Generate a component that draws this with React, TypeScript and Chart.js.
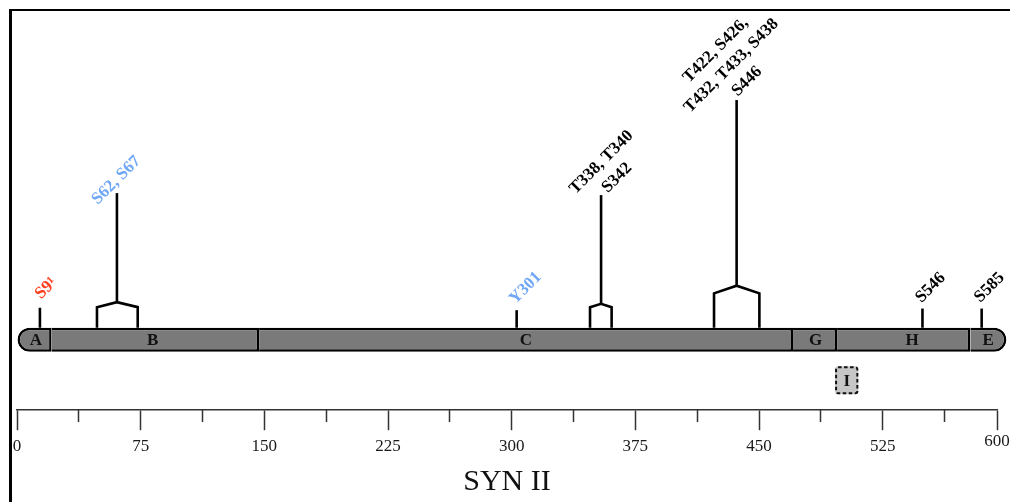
import React, { useEffect, useRef } from 'react';
import { Chart, registerables } from 'chart.js';

Chart.register(...registerables);

// ---------- data ----------
const DOMAIN_NAMES = ['A', 'B', 'C', 'G', 'H', 'E'];
const DOMAIN_START = [0, 21.0, 146.8, 470.6, 497.3, 578.2];
const DOMAIN_END = [21.0, 146.8, 470.6, 497.3, 578.2, 600];
const DOMAIN_LABEL_AT = [11.5, 82.3, 308.6, 484.3, 542.8, 589.0];

const EXTRA_DOMAIN_NAME = 'I';
const EXTRA_DOMAIN_START = 496.1;
const EXTRA_DOMAIN_END = 510.2;

const SITE_LABELS = [
  'S9\u00B9',
  'S62, S67',
  'Y301',
  'T338, T340\nS342',
  'T422, S426,\nT432, T433, S438\nS446',
  'S546',
  'S585',
];
const SITE_POS = [13.9, 60.6, 303.0, 354.2, 436.4, 549.1, 585.0];
const SITE_SPAN_START: (number | null)[] = [null, 48.5, null, 347.5, 422.7, null, null];
const SITE_SPAN_END: (number | null)[] = [null, 73.2, null, 360.6, 450.2, null, null];
const SITE_COLORS = ['#ff4020', '#6fa6f6', '#6fa6f6', '#000000', '#000000', '#000000', '#000000'];

const TICK_VALUES = [0, 75, 150, 225, 300, 375, 450, 525, 600];
const AXIS_MAX = 594.3;
const TITLE = 'SYN II';

// ---------- vertical layout levels (y units) and label styling ----------
const BAR_LEVEL = 17.6;
const BAR_TOP = 20.6;
const EXTRA_LEVEL = 7.5;
const STEM_TOP = [25.6, 54.25, 25.0, 53.75, 77.5, 25.4, 25.4];
const BRACKET_LEG = [0, 25.75, 0, 25.75, 29.2, 0, 0];
const BRACKET_APEX = [0, 27.0, 0, 26.6, 31.1, 0, 0];
const LABEL_SHIFT = [6.5, -22, 3, 6, 3, 3, 3];
const LABEL_LIFT = [5, 5, 5, -3.5, 1.5, 4.5, 5];
const LABEL_LINE_H = 22;

const MINOR_TICKS = TICK_VALUES.slice(0, -1)
  .map((v, i) => (v + TICK_VALUES[i + 1]) / 2)
  .filter((v) => v < AXIS_MAX);

const SERIF = '"Liberation Serif", "Times New Roman", serif';
Chart.defaults.font.family = SERIF;

const lineStyle = {
  type: 'line' as const,
  borderColor: '#000',
  borderWidth: 2.6,
  pointRadius: 0,
  pointHoverRadius: 0,
  fill: false,
  tension: 0,
  borderJoinStyle: 'miter' as const,
  borderCapStyle: 'butt' as const,
  clip: false as any,
  order: 2,
  xAxisID: 'x',
  yAxisID: 'y',
};

function buildSiteDatasets() {
  const sets: any[] = [];
  SITE_POS.forEach((p, i) => {
    const s = SITE_SPAN_START[i];
    const e = SITE_SPAN_END[i];
    if (s != null && e != null) {
      sets.push({
        ...lineStyle,
        data: [
          { x: s, y: BAR_TOP },
          { x: s, y: BRACKET_LEG[i] },
          { x: p, y: BRACKET_APEX[i] },
          { x: e, y: BRACKET_LEG[i] },
          { x: e, y: BAR_TOP },
        ],
      });
      sets.push({ ...lineStyle, data: [{ x: p, y: BRACKET_APEX[i] }, { x: p, y: STEM_TOP[i] }] });
    } else {
      sets.push({ ...lineStyle, data: [{ x: p, y: BAR_TOP }, { x: p, y: STEM_TOP[i] }] });
    }
  });
  return sets;
}

const annotate = {
  id: 'annotate',
  afterDatasetsDraw(chart: any) {
    const { ctx, scales } = chart;
    const x = scales.x;
    const y = scales.y;
    ctx.save();
    // domain names
    ctx.font = `bold 17px ${SERIF}`;
    ctx.fillStyle = '#111';
    ctx.textAlign = 'center';
    ctx.textBaseline = 'middle';
    DOMAIN_NAMES.forEach((n, i) => {
      ctx.fillText(n, x.getPixelForValue(DOMAIN_LABEL_AT[i]), y.getPixelForValue(BAR_LEVEL) + 1);
    });
    // extra domain box: dashed outline + name
    const el = chart.getDatasetMeta(1).data[0];
    if (el) {
      const { x: ex, y: ey, base, height } = el.getProps(['x', 'y', 'base', 'height'], true);
      const left = Math.min(ex, base);
      const w = Math.abs(ex - base);
      ctx.save();
      ctx.setLineDash([3.5, 2.5]);
      ctx.lineWidth = 2;
      ctx.strokeStyle = '#111';
      ctx.beginPath();
      if (ctx.roundRect) ctx.roundRect(left + 1, ey - height / 2 + 1, w - 2, height - 2, 2);
      else ctx.rect(left + 1, ey - height / 2 + 1, w - 2, height - 2);
      ctx.stroke();
      ctx.restore();
      ctx.fillStyle = '#111';
      ctx.fillText(EXTRA_DOMAIN_NAME, left + w / 2, ey + 1);
    }
    // site labels (rotated 45 degrees, centred lines)
    SITE_LABELS.forEach((label, i) => {
      const px = x.getPixelForValue(SITE_POS[i]);
      const py = y.getPixelForValue(STEM_TOP[i]);
      const lines = label.split('\n');
      ctx.save();
      ctx.translate(px, py);
      ctx.rotate(-Math.PI / 4);
      ctx.font = `bold 17px ${SERIF}`;
      ctx.fillStyle = SITE_COLORS[i];
      ctx.textAlign = 'center';
      ctx.textBaseline = 'alphabetic';
      const lastW = ctx.measureText(lines[lines.length - 1]).width;
      const cx = LABEL_SHIFT[i] + lastW / 2;
      lines.forEach((ln, k) => {
        ctx.fillText(ln, cx, -LABEL_LIFT[i] - (lines.length - 1 - k) * LABEL_LINE_H);
      });
      ctx.restore();
    });
    ctx.restore();
  },
};

export default function App() {
  const ref = useRef<HTMLCanvasElement>(null);

  useEffect(() => {
    const canvas = ref.current;
    if (!canvas) return;
    const last = DOMAIN_NAMES.length - 1;
    const lastTick = TICK_VALUES.length - 1;
    const chart = new Chart(canvas, {
      type: 'line',
      data: {
        datasets: [
          {
            type: 'bar',
            indexAxis: 'y',
            grouped: false,
            barThickness: 24,
            inflateAmount: 0,
            borderSkipped: false,
            clip: false,
            order: 1,
            xAxisID: 'x',
            yAxisID: 'y',
            backgroundColor: '#7a7a7a',
            borderColor: '#000',
            borderWidth: (c: any) =>
              c.dataIndex === 0
                ? { top: 2.5, bottom: 2.5, left: 2.5, right: 2.5 }
                : { top: 2.5, bottom: 2.5, left: 0, right: 2.5 },
            borderRadius: (c: any) =>
              c.dataIndex === 0
                ? { topLeft: 12, bottomLeft: 12, topRight: 0, bottomRight: 0 }
                : c.dataIndex === last
                ? { topLeft: 0, bottomLeft: 0, topRight: 12, bottomRight: 12 }
                : 0,
            data: DOMAIN_START.map((s, i) => ({ x: [s, DOMAIN_END[i]], y: BAR_LEVEL })),
          } as any,
          {
            type: 'bar',
            indexAxis: 'y',
            grouped: false,
            barThickness: 28,
            inflateAmount: 0,
            borderSkipped: false,
            clip: false,
            order: 1,
            xAxisID: 'x',
            yAxisID: 'y',
            backgroundColor: '#c6c6c6',
            borderWidth: 0,
            borderRadius: 3,
            data: [{ x: [EXTRA_DOMAIN_START, EXTRA_DOMAIN_END], y: EXTRA_LEVEL }],
          } as any,
          ...buildSiteDatasets(),
        ],
      },
      options: {
        responsive: false,
        animation: false,
        events: [],
        layout: { padding: { left: 17, right: 13, top: 10, bottom: 0 } },
        plugins: {
          legend: { display: false },
          tooltip: { enabled: false },
          title: {
            display: true,
            text: TITLE,
            position: 'bottom',
            color: '#111',
            font: { family: SERIF, size: 30, weight: 'normal', lineHeight: 1.2 },
            padding: { top: 0.5, bottom: 2.3 },
          },
        },
        scales: {
          x: {
            type: 'linear',
            position: 'bottom',
            min: 0,
            max: AXIS_MAX,
            offset: false,
            afterBuildTicks: (s: any) => {
              s.ticks = TICK_VALUES.map((v) => ({ value: Math.min(v, AXIS_MAX) }));
            },
            ticks: {
              autoSkip: false,
              maxRotation: 0,
              minRotation: 0,
              padding: 0,
              color: '#1a1a1a',
              font: (c: any) => ({
                family: SERIF,
                size: 17,
                lineHeight: c.index === lastTick ? '23px' : '33px',
              }),
              callback: (_v: any, i: number) => String(TICK_VALUES[i]),
            },
            grid: {
              display: true,
              offset: false,
              drawOnChartArea: false,
              drawTicks: true,
              tickLength: 20,
              tickWidth: 1.5,
              tickColor: '#333',
            },
            border: { display: true, width: 1.5, color: '#333' },
          },
          x2: {
            type: 'linear',
            axis: 'x',
            position: { y: 0 },
            min: 0,
            max: AXIS_MAX,
            offset: false,
            afterBuildTicks: (s: any) => {
              s.ticks = MINOR_TICKS.map((v) => ({ value: v }));
            },
            ticks: { display: false },
            grid: {
              display: true,
              offset: false,
              drawOnChartArea: false,
              drawTicks: true,
              tickLength: 12,
              tickWidth: 1.5,
              tickColor: '#333',
            },
            border: { display: false },
          },
          y: {
            type: 'linear',
            display: false,
            min: 0,
            max: 100,
            offset: false,
            grid: { offset: false },
          },
        } as any,
      },
      plugins: [annotate],
    } as any);
    return () => chart.destroy();
  }, []);

  return (
    <div
      style={{
        position: 'fixed',
        left: 0,
        top: 0,
        width: 1010,
        height: 502,
        background: '#fff',
        overflow: 'hidden',
      }}
    >
      <canvas
        ref={ref}
        width={1010}
        height={502}
        style={{ position: 'absolute', left: 0, top: 0, width: 1010, height: 502 }}
      />
      <div
        style={{
          position: 'absolute',
          left: 9,
          top: 9,
          width: 1100,
          height: 600,
          borderLeft: '3px solid #000',
          borderTop: '2px solid #000',
          pointerEvents: 'none',
        }}
      />
    </div>
  );
}
